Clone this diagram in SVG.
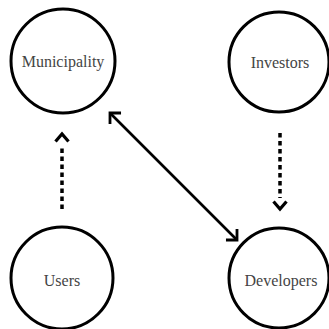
<svg xmlns="http://www.w3.org/2000/svg" width="329" height="329" viewBox="0 0 329 329">
  <style>
    .node circle { fill: #ffffff; stroke: #000000; stroke-width: 3; }
    .node text { font-family: "Liberation Serif", "Times New Roman", serif; font-size: 16px; fill: #444444; text-anchor: middle; }
    .solid { fill: none; stroke: #000000; stroke-width: 2.6; }
    .dotted { fill: none; stroke: #000000; stroke-width: 3.5; stroke-dasharray: 4.5 3.5; }
  </style>
  <defs>
    <marker id="head" markerUnits="userSpaceOnUse" viewBox="-12 -12 24 24" markerWidth="24" markerHeight="24" refX="0" refY="0" orient="auto-start-reverse" overflow="visible">
      <path d="M-7.8,-7.8 L0,0 L-7.8,7.8" fill="none" stroke="#000000" stroke-width="2.8"/>
    </marker>
    <marker id="dothead" markerUnits="userSpaceOnUse" viewBox="-12 -12 24 24" markerWidth="24" markerHeight="24" refX="-11" refY="0" orient="auto" overflow="visible">
      <path d="M-7.5,-6.5 L0,0 L-7.5,6.5" fill="none" stroke="#000000" stroke-width="3.2"/>
    </marker>
  </defs>
  <g id="connectors">
    <path class="solid" d="M110,113 L237,240" marker-start="url(#head)" marker-end="url(#head)"/>
    <path class="dotted" d="M62,209 L62,145" marker-end="url(#dothead)"/>
    <path class="dotted" d="M280,133 L280,198" marker-end="url(#dothead)"/>
  </g>
  <g id="municipality" class="node">
    <circle cx="63" cy="61" r="52"/>
    <text x="63" y="67">Municipality</text>
  </g>
  <g id="investors" class="node">
    <circle cx="279" cy="62" r="50"/>
    <text x="280" y="68">Investors</text>
  </g>
  <g id="users" class="node">
    <circle cx="62" cy="278" r="51"/>
    <text x="62" y="286">Users</text>
  </g>
  <g id="developers" class="node">
    <circle cx="279" cy="278" r="50"/>
    <text x="281" y="286">Developers</text>
  </g>
</svg>
